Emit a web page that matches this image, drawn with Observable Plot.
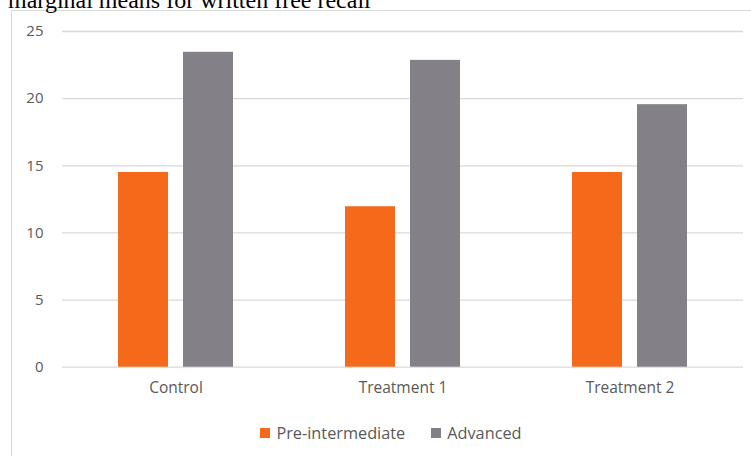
<!DOCTYPE html>
<html>
<head>
<meta charset="utf-8">
<script src="https://cdn.jsdelivr.net/npm/d3@7"></script>
<script src="https://cdn.jsdelivr.net/npm/@observablehq/plot@0.6"></script>
<style>
  html, body { margin: 0; padding: 0; background: #fff; overflow: hidden; }
  #wrap { position: relative; width: 751px; height: 456px; }
  #title { position: absolute; left: 8px; top: -12px; font-family: "Liberation Serif", "Times New Roman", serif; font-size: 24px; line-height: 24px; color: #000; white-space: nowrap; }
  #frame { position: absolute; left: 11px; top: 10px; width: 800px; height: 500px; border: 1px solid #d9d9d9; box-sizing: border-box; }
  #chart { position: absolute; left: 0; top: 0; }
  #legend { position: absolute; left: 31px; top: 422px; width: 720px; display: flex; justify-content: center; }
  .lg-swatches { font-family: "Open Sans", sans-serif !important; font-size: 16.3px !important; color: #595959 !important; min-height: 0 !important; margin: 0 !important; display: flex !important; justify-content: center; }
  .lg-swatch { margin-right: 26px !important; }
  .lg-swatch:last-child { margin-right: 0 !important; }
  .lg-swatch > svg { margin-right: 6px !important; }
</style>
</head>
<body>
<div id="wrap">
  <div id="frame"></div>
  <div id="title">marginal means for written free recall</div>
  <div id="chart"></div>
  <div id="legend"></div>
</div>
<script>
const categories = ["Control", "Treatment 1", "Treatment 2"];
const series = ["Pre-intermediate", "Advanced"];
const preIntermediate = [14.5, 11.95, 14.5];
const advanced = [23.45, 22.85, 19.55];
const yTicks = [0, 5, 10, 15, 20, 25];
const colors = ["#f4691a", "#838187"];

const data = [];
categories.forEach((c, i) => {
  data.push({category: c, series: series[0], value: preIntermediate[i]});
  data.push({category: c, series: series[1], value: advanced[i]});
});

const chart = Plot.plot({
  width: 751,
  height: 410,
  marginTop: 31,
  marginBottom: 43.3,
  marginLeft: 61.5,
  marginRight: 8.5,
  style: {fontFamily: "'Open Sans', sans-serif", fontSize: "15.5px", color: "#595959", background: "transparent", overflow: "visible"},
  fx: {domain: categories, padding: 0},
  x: {domain: series, paddingInner: 0.2308, paddingOuter: 0.8615, axis: null, round: false},
  y: {domain: [0, 25]},
  color: {domain: series, range: colors},
  marks: [
    Plot.gridY(yTicks, {stroke: "#d9d9d9", strokeOpacity: 1, strokeWidth: 1.3}),
    Plot.barY(data, {fx: "category", x: "series", y: "value", fill: "series"}),
    Plot.axisY({ticks: yTicks, tickSize: 0, tickPadding: 19, label: null, fill: "#595959", fontSize: 15}),
    Plot.axisFx({anchor: "bottom", tickSize: 0, tickPadding: 15, label: null, fill: "#595959"})
  ]
});
document.getElementById("chart").appendChild(chart);
const legend = chart.legend("color", {swatchSize: 10, className: "lg"});
document.getElementById("legend").appendChild(legend);
</script>
</body>
</html>
